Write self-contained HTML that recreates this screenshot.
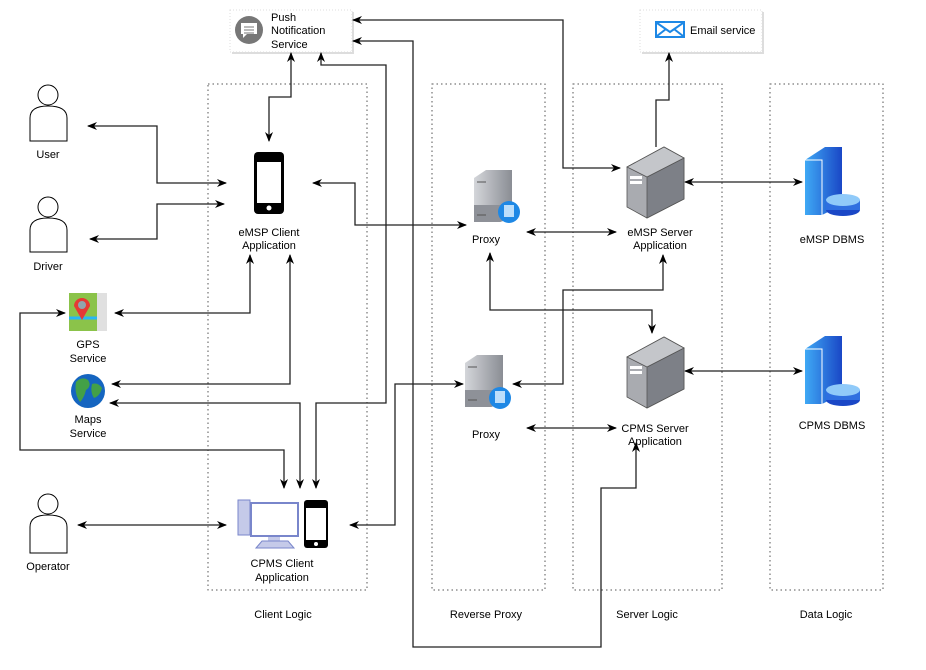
<!DOCTYPE html>
<html><head><meta charset="utf-8"><style>
html,body{margin:0;padding:0;background:#fff;}
svg{display:block;font-family:"Liberation Sans",Arial,sans-serif;font-size:11px;}
</style></head><body>
<svg width="926" height="670" viewBox="0 0 926 670" xmlns="http://www.w3.org/2000/svg">
<defs>
<marker id="a" viewBox="0 0 10 10" refX="9" refY="5" markerUnits="userSpaceOnUse" markerWidth="10" markerHeight="10" orient="auto-start-reverse"><path d="M0,1 L10,5 L0,9 L3,5 Z" fill="#000"/></marker>
<linearGradient id="db" x1="0" x2="1"><stop offset="0" stop-color="#3fa9f5"/><stop offset="1" stop-color="#1a47c6"/></linearGradient>
<linearGradient id="srv" x1="0" x2="1"><stop offset="0" stop-color="#d4d6da"/><stop offset="1" stop-color="#8a8d94"/></linearGradient>
</defs>
<g fill="none" stroke="#555" stroke-width="1" stroke-dasharray="1.5,3">
<rect x="208" y="84" width="159" height="506"/>
<rect x="432" y="84" width="113" height="506"/>
<rect x="573" y="84" width="149" height="506"/>
<rect x="770" y="84" width="113" height="506"/>
</g>
<g text-anchor="middle" fill="#000">
<text x="283" y="618">Client  Logic</text>
<text x="486" y="618">Reverse Proxy</text>
<text x="647" y="618">Server Logic</text>
<text x="826" y="618">Data Logic</text>
</g>
<rect x="232" y="12" width="122" height="42" fill="#ddd"/>
<rect x="230" y="10" width="122" height="42" fill="#fff" stroke="#ddd" stroke-dasharray="1,2"/>
<circle cx="249" cy="30" r="14" fill="#777"/>
<path d="M241,23 h16 v11 h-10 l-4,4 v-4 h-2 z" fill="#fff"/>
<path d="M244,27 h10 M244,30 h10 M244,33 h10" stroke="#777" stroke-width="1"/>
<text x="271" y="21">Push</text><text x="271" y="34">Notification</text><text x="271" y="48">Service</text>
<rect x="642" y="12" width="122" height="42" fill="#ddd"/>
<rect x="640" y="10" width="122" height="42" fill="#fff" stroke="#ddd" stroke-dasharray="1,2"/>
<rect x="655" y="21" width="30" height="17" fill="#1e88e5"/>
<rect x="657" y="23" width="26" height="13" fill="#fff"/>
<path d="M657,23 L670,32 L683,23 M657,36 L666,29 M683,36 L674,29" stroke="#1e88e5" stroke-width="2" fill="none"/>
<text x="690" y="34">Email service</text>
<g fill="none" stroke="#222" stroke-width="1.3">
<path d="M291,53 V97 H269 V141" marker-start="url(#a)" marker-end="url(#a)"/>
<path d="M620,168 H563 V20 H353" marker-end="url(#a)" marker-start="url(#a)"/>
<path d="M636,443 V488 H601 V647 H413 V41 H353" marker-start="url(#a)" marker-end="url(#a)"/>
<path d="M321,53 V65 H386 V403 H316 V488" marker-start="url(#a)" marker-end="url(#a)"/>
<path d="M110,403 H300 V488" marker-start="url(#a)" marker-end="url(#a)"/>
<path d="M290,255 V384 H112" marker-start="url(#a)" marker-end="url(#a)"/>
<path d="M250,255 V313 H115" marker-start="url(#a)" marker-end="url(#a)"/>
<path d="M65,313 H20 V450 H284 V488" marker-start="url(#a)" marker-end="url(#a)"/>
<path d="M78,525 H226" marker-start="url(#a)" marker-end="url(#a)"/>
<path d="M350,525 H395 V384 H463" marker-start="url(#a)" marker-end="url(#a)"/>
<path d="M313,183 H355 V225 H466" marker-start="url(#a)" marker-end="url(#a)"/>
<path d="M527,232 H616" marker-start="url(#a)" marker-end="url(#a)"/>
<path d="M490,253 V310 H652 V333" marker-start="url(#a)" marker-end="url(#a)"/>
<path d="M663,255 V290 H563 V384 H513" marker-start="url(#a)" marker-end="url(#a)"/>
<path d="M527,428 H616" marker-start="url(#a)" marker-end="url(#a)"/>
<path d="M685,182 H802" marker-start="url(#a)" marker-end="url(#a)"/>
<path d="M685,371 H802" marker-start="url(#a)" marker-end="url(#a)"/>
<path d="M656,147 V100 H669 V53" marker-end="url(#a)"/>
<path d="M88,126 H157 V183 H226" marker-start="url(#a)" marker-end="url(#a)"/>
<path d="M90,239 H157 V204 H224" marker-start="url(#a)" marker-end="url(#a)"/>
</g>
<g fill="#fff" stroke="#000" stroke-width="1">
<circle cx="48" cy="95" r="10"/><path d="M30,141 V118 Q30,106 48,106 Q67,106 67,118 V141 Z"/>
<circle cx="48" cy="207" r="10"/><path d="M30,252 V230 Q30,218 48,218 Q67,218 67,230 V252 Z"/>
<circle cx="48" cy="504" r="10"/><path d="M30,553 V527 Q30,515 48,515 Q67,515 67,527 V553 Z"/>
</g>
<g text-anchor="middle">
<text x="48" y="158">User</text><text x="48" y="270">Driver</text><text x="48" y="570">Operator</text>
</g>
<rect x="254" y="152" width="30" height="62" rx="4" fill="#000"/>
<rect x="257" y="162" width="24" height="41" fill="#fff"/>
<circle cx="269" cy="208" r="2.5" fill="#fff"/>
<g text-anchor="middle"><text x="269" y="236">eMSP Client</text><text x="269" y="249">Application</text></g>
<rect x="69" y="293" width="38" height="38" fill="#8bc34a"/>
<rect x="97" y="293" width="10" height="38" fill="#e0e0e0"/>
<path d="M69,318 H97" stroke="#29b6f6" stroke-width="3"/>
<path d="M82,320 L74,306 A8,8 0 1 1 90,306 Z" fill="#e53935"/>
<circle cx="82" cy="305" r="4" fill="#90a4ae"/>
<g text-anchor="middle"><text x="88" y="348">GPS</text><text x="88" y="362">Service</text></g>
<circle cx="88" cy="391" r="17" fill="#1565c0"/>
<path d="M76,382 q6,-6 12,-2 q4,6 -2,10 q-2,8 -6,12 q-6,-8 -4,-20z M92,384 q6,-2 10,4 q-2,8 -8,10 q-4,-6 -2,-14z" fill="#43a047"/>
<g text-anchor="middle"><text x="88" y="423">Maps</text><text x="88" y="437">Service</text></g>
<rect x="238" y="500" width="12" height="35" fill="#c5cae9" stroke="#7986cb"/>
<rect x="251" y="503" width="47" height="33" fill="#fff" stroke="#7986cb" stroke-width="2"/>
<rect x="268" y="537" width="12" height="4" fill="#c5cae9"/>
<path d="M256,548 L262,541 H288 L294,548 Z" fill="#c5cae9" stroke="#7986cb"/>
<rect x="304" y="500" width="24" height="48" rx="3" fill="#000"/>
<rect x="306" y="508" width="20" height="32" fill="#fff"/>
<circle cx="316" cy="544" r="2" fill="#fff"/>
<g text-anchor="middle"><text x="282" y="567">CPMS Client</text><text x="282" y="581">Application</text></g>
<g>
<path d="M474,178 L486,170 H512 V218 L500,222 H474 Z" fill="url(#srv)"/>
<path d="M474,205 H512 V218 L500,222 H474 Z" fill="#8e9198"/>
<path d="M477,182 H486 M477,215 H486" stroke="#555"/>
<circle cx="509" cy="212" r="11" fill="#1e88e5"/><rect x="504" y="205" width="10" height="12" fill="#bbdefb"/>
<text x="486" y="243" text-anchor="middle">Proxy</text>
</g>
<g>
<path d="M465,363 L477,355 H503 V403 L491,407 H465 Z" fill="url(#srv)"/>
<path d="M465,390 H503 V403 L491,407 H465 Z" fill="#8e9198"/>
<path d="M468,367 H477 M468,400 H477" stroke="#555"/>
<circle cx="500" cy="398" r="11" fill="#1e88e5"/><rect x="495" y="391" width="10" height="12" fill="#bbdefb"/>
<text x="486" y="438" text-anchor="middle">Proxy</text>
</g>
<g stroke="#555" stroke-width="0.8">
<path d="M627,167 L664,147 L684,158 V199 L647,218 L627,207 Z" fill="#a9abb0"/>
<path d="M647,177 L684,158 V199 L647,218 Z" fill="#7d8087"/>
<path d="M627,167 L664,147 L684,158 L647,177 Z" fill="#c4c6ca"/>
<path d="M627,357 L664,337 L684,348 V389 L647,408 L627,397 Z" fill="#a9abb0"/>
<path d="M647,367 L684,348 V389 L647,408 Z" fill="#7d8087"/>
<path d="M627,357 L664,337 L684,348 L647,367 Z" fill="#c4c6ca"/>
</g>
<g fill="#fff"><rect x="630" y="176" width="12" height="3"/><rect x="630" y="181" width="12" height="3"/><rect x="630" y="366" width="12" height="3"/><rect x="630" y="371" width="12" height="3"/></g>
<g text-anchor="middle"><text x="660" y="236">eMSP Server</text><text x="660" y="249">Application</text>
<text x="655" y="432">CPMS Server</text><text x="655" y="445">Application</text></g>
<g>
<path d="M805,160 L825,147 H842 V205 L822,215 H805 Z" fill="url(#db)"/>
<path d="M805,160 L822,160 V215" stroke="#fff" fill="none"/>
<ellipse cx="843" cy="210" rx="17" ry="6" fill="#1a47c6"/><rect x="826" y="200" width="34" height="10" fill="#2f6fe0"/><ellipse cx="843" cy="200" rx="17" ry="6" fill="#90caf9"/>
<text x="832" y="243" text-anchor="middle">eMSP DBMS</text>
<path d="M805,349 L825,336 H842 V394 L822,404 H805 Z" fill="url(#db)"/>
<path d="M805,349 L822,349 V404" stroke="#fff" fill="none"/>
<ellipse cx="843" cy="400" rx="17" ry="6" fill="#1a47c6"/><rect x="826" y="390" width="34" height="10" fill="#2f6fe0"/><ellipse cx="843" cy="390" rx="17" ry="6" fill="#90caf9"/>
<text x="832" y="429" text-anchor="middle">CPMS DBMS</text>
</g>
</svg>
</body></html>
